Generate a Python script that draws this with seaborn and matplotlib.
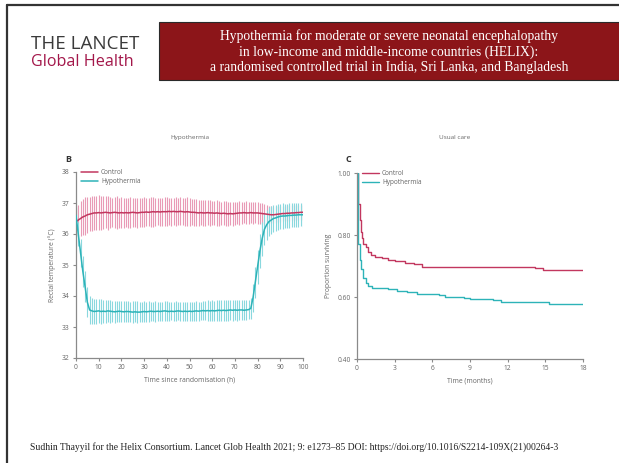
import numpy as np
import pandas as pd
import matplotlib
matplotlib.use("Agg")
import matplotlib.pyplot as plt
import seaborn as sns
from matplotlib.patches import Rectangle
from matplotlib.lines import Line2D

# ---------------- data ----------------
hours = list(range(0, 101))

ctrl_mean = [36.40, 36.45, 36.50, 36.55, 36.58, 36.62, 36.64, 36.66, 36.68, 36.68,
             36.69, 36.68, 36.69, 36.70, 36.69, 36.68, 36.69, 36.70, 36.69, 36.68,
             36.69, 36.68, 36.69, 36.68, 36.69, 36.70, 36.69, 36.68, 36.69, 36.70,
             36.70, 36.71, 36.70, 36.71, 36.72, 36.71, 36.72, 36.71, 36.72, 36.72,
             36.72, 36.73, 36.72, 36.73, 36.72, 36.72, 36.73, 36.72, 36.71, 36.72,
             36.71, 36.70, 36.70, 36.69, 36.68, 36.69, 36.68, 36.68, 36.69, 36.68,
             36.68, 36.67, 36.68, 36.67, 36.66, 36.67, 36.66, 36.65, 36.66, 36.65,
             36.66, 36.67, 36.68, 36.68, 36.69, 36.68, 36.68, 36.69, 36.68, 36.68,
             36.68, 36.67, 36.66, 36.65, 36.64, 36.63, 36.62, 36.62, 36.63, 36.64,
             36.65, 36.66, 36.66, 36.67, 36.67, 36.68, 36.68, 36.69, 36.69, 36.70, 36.70]

ctrl_sd = [0.45, 0.50, 0.55, 0.58, 0.60, 0.58, 0.55, 0.56, 0.54, 0.55,
           0.56, 0.55, 0.53, 0.52, 0.55, 0.50, 0.48, 0.50, 0.52, 0.49,
           0.50, 0.48, 0.47, 0.49, 0.50, 0.46, 0.47, 0.48, 0.46, 0.47,
           0.48, 0.46, 0.45, 0.47, 0.48, 0.45, 0.44, 0.46, 0.45, 0.47,
           0.46, 0.44, 0.45, 0.43, 0.46, 0.44, 0.45, 0.43, 0.44, 0.46,
           0.44, 0.42, 0.43, 0.44, 0.42, 0.41, 0.43, 0.42, 0.40, 0.41,
           0.40, 0.39, 0.41, 0.40, 0.38, 0.39, 0.40, 0.38, 0.37, 0.38,
           0.37, 0.36, 0.38, 0.36, 0.35, 0.37, 0.36, 0.35, 0.36, 0.34,
           0.35, 0.34, 0.33, 0.32, 0.30, 0.28, 0.27, 0.26, 0.27, 0.25,
           0.26, 0.25, 0.24, 0.25, 0.26, 0.24, 0.25, 0.24, 0.23, 0.24, 0.25]

hypo_mean = [36.60, 36.00, 35.40, 34.80, 34.30, 33.80, 33.55, 33.52, 33.50, 33.51,
             33.52, 33.50, 33.51, 33.50, 33.52, 33.51, 33.50, 33.49, 33.50, 33.51,
             33.50, 33.49, 33.50, 33.50, 33.49, 33.48, 33.49, 33.48, 33.48, 33.49,
             33.50, 33.49, 33.50, 33.51, 33.50, 33.50, 33.51, 33.50, 33.51, 33.52,
             33.51, 33.50, 33.51, 33.50, 33.51, 33.52, 33.51, 33.50, 33.51, 33.50,
             33.51, 33.50, 33.51, 33.52, 33.51, 33.52, 33.53, 33.52, 33.53, 33.52,
             33.53, 33.52, 33.53, 33.54, 33.53, 33.54, 33.53, 33.54, 33.55, 33.54,
             33.55, 33.54, 33.55, 33.55, 33.54, 33.55, 33.56, 33.60, 33.95, 34.45,
             34.95, 35.45, 35.85, 36.15, 36.30, 36.40, 36.45, 36.50, 36.52, 36.55,
             36.57, 36.58, 36.58, 36.59, 36.60, 36.60, 36.61, 36.61, 36.62, 36.62, 36.62]

hypo_sd = [0.30, 0.40, 0.45, 0.50, 0.50, 0.48, 0.45, 0.42, 0.40, 0.40,
           0.38, 0.39, 0.37, 0.38, 0.36, 0.37, 0.35, 0.36, 0.35, 0.34,
           0.35, 0.34, 0.33, 0.34, 0.33, 0.35, 0.34, 0.36, 0.33, 0.32,
           0.33, 0.32, 0.33, 0.31, 0.32, 0.33, 0.31, 0.32, 0.31, 0.33,
           0.32, 0.31, 0.30, 0.31, 0.32, 0.30, 0.31, 0.30, 0.31, 0.30,
           0.31, 0.30, 0.31, 0.32, 0.31, 0.30, 0.32, 0.31, 0.33, 0.32,
           0.33, 0.32, 0.33, 0.34, 0.33, 0.34, 0.33, 0.34, 0.33, 0.34,
           0.33, 0.34, 0.33, 0.32, 0.33, 0.32, 0.31, 0.35, 0.45, 0.50,
           0.55, 0.55, 0.55, 0.50, 0.48, 0.46, 0.45, 0.44, 0.43, 0.42,
           0.40, 0.41, 0.40, 0.39, 0.40, 0.39, 0.38, 0.39, 0.38, 0.37, 0.38]

ctrl_km_t = [0, 0.05, 0.1, 0.2, 0.3, 0.4, 0.5, 0.7, 0.9, 1.1, 1.4, 2.0, 2.5, 3.0, 3.8, 4.5, 5.2, 14.2, 14.8, 18.0]
ctrl_km_s = [1.00, 0.95, 0.90, 0.85, 0.81, 0.79, 0.77, 0.76, 0.745, 0.735, 0.73, 0.725, 0.72, 0.715, 0.71, 0.705, 0.698, 0.693, 0.688, 0.688]

hypo_km_t = [0, 0.05, 0.1, 0.2, 0.3, 0.5, 0.7, 0.9, 1.2, 2.5, 3.2, 4.0, 4.8, 6.5, 7.0, 8.5, 9.0, 10.8, 11.5, 15.3, 18.0]
hypo_km_s = [1.00, 0.85, 0.77, 0.72, 0.69, 0.66, 0.645, 0.635, 0.63, 0.625, 0.62, 0.615, 0.61, 0.605, 0.60, 0.597, 0.593, 0.59, 0.585, 0.578, 0.578]

temp_ticks = [32, 33, 34, 35, 36, 37, 38]
hour_ticks = [0, 10, 20, 30, 40, 50, 60, 70, 80, 90, 100]
surv_ticks = [0.40, 0.60, 0.80, 1.00]
month_ticks = [0, 3, 6, 9, 12, 15, 18]

# ---------------- style ----------------
sns.set_theme(style="ticks")
plt.rcParams['font.family'] = ['Open Sans', 'DejaVu Sans']

W, H = 619, 463
fig = plt.figure(figsize=(W / 100, H / 100), dpi=100)
fig.patch.set_facecolor("white")

def fx(x):
    return x / W

def fy(y):
    return 1 - y / H

RED_LINE = "#C2375F"
RED_BAR = "#E99AB6"
CYAN_LINE = "#2DB3B8"
CYAN_BAR = "#8AD8DE"
AX_GRAY = "#8a8a8a"
TXT_GRAY = "#666666"

# ---------------- header ----------------
fig.add_artist(Line2D([fx(7), fx(619)], [fy(5), fy(5)], color="#333333", lw=1.6))
fig.add_artist(Line2D([fx(7), fx(7)], [fy(5), fy(463)], color="#333333", lw=1.6))
fig.add_artist(Rectangle((fx(159), fy(80)), fx(470), (80 - 22) / H,
                         facecolor="#8C1519", edgecolor="#2a2a2a", lw=0.8))
fig.text(fx(389), fy(51.5),
         "Hypothermia for moderate or severe neonatal encephalopathy\n"
         "in low-income and middle-income countries (HELIX):\n"
         "a randomised controlled trial in India, Sri Lanka, and Bangladesh",
         ha="center", va="center", color="white", fontsize=9.8,
         family=["Liberation Serif"], linespacing=1.2)
fig.text(fx(31), fy(44), "THE LANCET", ha="left", va="center", color="#3a3a3a",
         fontsize=13.5, family=["Open Sans"])
fig.text(fx(31), fy(62), "Global Health", ha="left", va="center", color="#A3174A",
         fontsize=11.6, family=["Open Sans"])

fig.text(fx(30), fy(447),
         "Sudhin Thayyil for the Helix Consortium. Lancet Glob Health 2021; 9: e1273\u201385 DOI: "
         "https://doi.org/10.1016/S2214-109X(21)00264-3",
         ha="left", va="center", color="#222222", fontsize=6.9, family=["Liberation Serif"])

# ---------------- panel B ----------------
axB = fig.add_axes([fx(76), fy(358), fx(303 - 76), (358 - 172) / H])
dfT = pd.DataFrame({
    "hour": hours * 2,
    "temp": ctrl_mean + hypo_mean,
    "group": ["Control"] * len(hours) + ["Hypothermia"] * len(hours),
})
axB.errorbar(hours, ctrl_mean, yerr=ctrl_sd, fmt="none", ecolor=RED_BAR, elinewidth=0.8,
             capsize=0, zorder=1)
axB.errorbar(hours, hypo_mean, yerr=hypo_sd, fmt="none", ecolor=CYAN_BAR, elinewidth=0.8,
             capsize=0, zorder=1)
sns.lineplot(data=dfT, x="hour", y="temp", hue="group",
             palette={"Control": RED_LINE, "Hypothermia": CYAN_LINE},
             linewidth=1.1, ax=axB, estimator=None, zorder=3)

# ---------------- panel C ----------------
axC = fig.add_axes([fx(357), fy(359), fx(583 - 357), (359 - 173) / H])
dfS = pd.DataFrame({
    "month": ctrl_km_t + hypo_km_t,
    "surv": ctrl_km_s + hypo_km_s,
    "group": ["Control"] * len(ctrl_km_t) + ["Hypothermia"] * len(hypo_km_t),
})
sns.lineplot(data=dfS, x="month", y="surv", hue="group",
             palette={"Control": RED_LINE, "Hypothermia": CYAN_LINE},
             linewidth=1.0, ax=axC, estimator=None, drawstyle="steps-post")

# ---------------- axes styling ----------------
for ax, xt, yt, xl, yl, xlab, ylab, yfmt in [
    (axB, hour_ticks, temp_ticks, (0, 100), (32, 38),
     "Time since randomisation (h)", "Rectal temperature (\u00b0C)", "{:.0f}"),
    (axC, month_ticks, surv_ticks, (0, 18), (0.40, 1.00),
     "Time (months)", "Proportion surviving", "{:.2f}"),
]:
    ax.set_xlim(*xl)
    ax.set_ylim(*yl)
    ax.set_xticks(xt)
    ax.set_yticks(yt)
    ax.set_yticklabels([yfmt.format(v) for v in yt])
    ax.set_xlabel(xlab, fontsize=4.9, color=TXT_GRAY, labelpad=4)
    ax.set_ylabel(ylab, fontsize=4.9, color=TXT_GRAY, labelpad=4)
    ax.tick_params(axis="both", labelsize=4.8, colors=AX_GRAY, labelcolor=TXT_GRAY,
                   length=2.5, width=0.8, pad=2, direction="out")
    for s in ["top", "right"]:
        ax.spines[s].set_visible(False)
    for s in ["left", "bottom"]:
        ax.spines[s].set_color(AX_GRAY)
        ax.spines[s].set_linewidth(0.9)
    ax.set_facecolor("white")
    leg = ax.legend(loc="upper left", bbox_to_anchor=(0.01, 1.03), frameon=False,
                    fontsize=4.7, handlelength=2.6, handletextpad=0.5,
                    labelspacing=0.35, borderaxespad=0)
    for t in leg.get_texts():
        t.set_color(TXT_GRAY)

fig.text(fx(190), fy(138), "Hypothermia", ha="center", va="center", fontsize=4.6, color=TXT_GRAY)
fig.text(fx(455), fy(137), "Usual care", ha="center", va="center", fontsize=4.6, color=TXT_GRAY)
fig.text(fx(68), fy(159), "B", ha="center", va="center", fontsize=6.5, fontweight="bold",
         color="#333333")
fig.text(fx(348), fy(159), "C", ha="center", va="center", fontsize=6.5, fontweight="bold",
         color="#333333")

fig.savefig("out.png", dpi=100, facecolor="white")
